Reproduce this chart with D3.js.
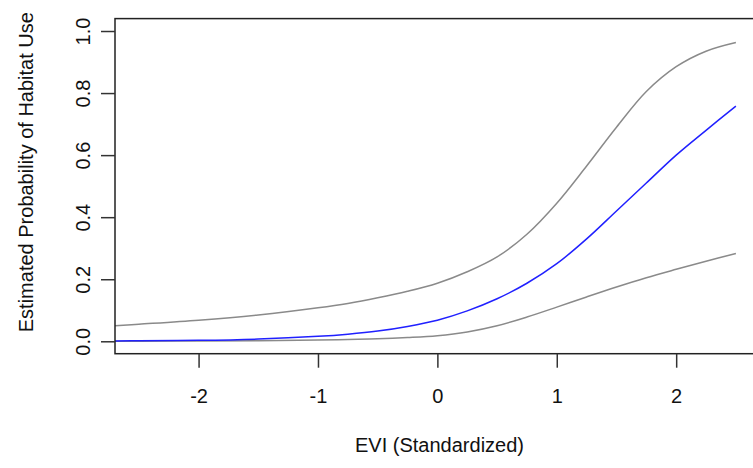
<!DOCTYPE html>
<html>
<head>
<meta charset="utf-8">
<script src="https://cdn.jsdelivr.net/npm/d3@7"></script>
<style>
  html, body { margin: 0; padding: 0; background: #fff; }
  svg { display: block; }
  text { font-family: "Liberation Sans", Arial, Helvetica, sans-serif; fill: #111; }
</style>
</head>
<body>
<svg id="chart" width="753" height="468"></svg>
<script>
// ---- data ----
const evi = [-2.7, -2.5, -2, -1.5, -1, -0.75, -0.5, -0.25, 0, 0.25, 0.5, 0.75, 1, 1.25, 1.5, 1.75, 2, 2.25, 2.5];
const estimate = [0.001, 0.002, 0.003, 0.007, 0.016, 0.023, 0.033, 0.048, 0.068, 0.098, 0.137, 0.187, 0.25, 0.33, 0.42, 0.51, 0.60, 0.68, 0.758];
const upperCI = [0.050, 0.055, 0.068, 0.085, 0.108, 0.122, 0.14, 0.161, 0.187, 0.224, 0.272, 0.345, 0.445, 0.565, 0.69, 0.805, 0.885, 0.935, 0.963];
const lowerCI = [0.000, 0.0005, 0.001, 0.002, 0.004, 0.006, 0.008, 0.012, 0.018, 0.03, 0.05, 0.078, 0.11, 0.143, 0.175, 0.205, 0.232, 0.258, 0.283];
const xTicks = [-2, -1, 0, 1, 2];
const xTickLabels = ["-2", "-1", "0", "1", "2"];
const yTicks = [0.0, 0.2, 0.4, 0.6, 0.8, 1.0];
const yTickLabels = ["0.0", "0.2", "0.4", "0.6", "0.8", "1.0"];
const xTitle = "EVI (Standardized)";
const yTitle = "Estimated Probability of Habitat Use";

// ---- layout ----
const svg = d3.select("#chart");
const plotL = 115, plotR = 764, plotT = 18.6, plotB = 353.7;
const pxPerUnit = 119.4;
const x = d3.scaleLinear().domain([-2.7, -2.7 + (plotR - plotL) / pxPerUnit]).range([plotL, plotR]);
const y = d3.scaleLinear().domain([-0.04, 1.04]).range([plotB, plotT]);

// lines
const line = d3.line().x(d => x(d[0])).y(d => y(d[1])).curve(d3.curveCatmullRom.alpha(0.5));
const series = [
  { vals: upperCI, color: "#8a8a8a", w: 1.5 },
  { vals: lowerCI, color: "#8a8a8a", w: 1.5 },
  { vals: estimate, color: "#2020ff", w: 1.5 }
];
series.forEach(s => {
  svg.append("path")
    .datum(evi.map((v, i) => [v, s.vals[i]]))
    .attr("d", line)
    .attr("fill", "none")
    .attr("stroke", s.color)
    .attr("stroke-width", s.w);
});

// box
svg.append("rect")
  .attr("x", plotL).attr("y", plotT)
  .attr("width", plotR - plotL).attr("height", plotB - plotT)
  .attr("fill", "none").attr("stroke", "#222").attr("stroke-width", 1.5);

// x axis
const xAxis = d3.axisBottom(x).tickValues(xTicks).tickSize(14).tickPadding(0)
  .tickFormat((d, i) => xTickLabels[i]);
const gx = svg.append("g").attr("transform", `translate(0,${plotB})`).call(xAxis);
gx.select(".domain").remove();
gx.selectAll(".tick line").attr("stroke", "#333").attr("stroke-width", 1.5);
gx.selectAll(".tick text")
  .attr("y", 49.6).attr("dy", null)
  .style("font-size", "20px").style("font-family", "Liberation Sans, Arial, sans-serif")
  .attr("fill", "#111");

// y axis
const yAxis = d3.axisLeft(y).tickValues(yTicks).tickSize(14).tickFormat((d, i) => yTickLabels[i]);
const gy = svg.append("g").attr("transform", `translate(${plotL},0)`).call(yAxis);
gy.select(".domain").remove();
gy.selectAll(".tick line").attr("stroke", "#333").attr("stroke-width", 1.5);
gy.selectAll(".tick text")
  .attr("x", null).attr("dy", null)
  .attr("text-anchor", "middle")
  .attr("transform", "translate(-25,0) rotate(-90)")
  .style("font-size", "20px").style("font-family", "Liberation Sans, Arial, sans-serif")
  .attr("fill", "#111");

// titles
svg.append("text")
  .attr("x", (plotL + plotR) / 2).attr("y", 452)
  .attr("text-anchor", "middle")
  .style("font-size", "20px")
  .text(xTitle);

svg.append("text")
  .attr("transform", `translate(33,${(plotT + plotB) / 2 - 14}) rotate(-90)`)
  .attr("text-anchor", "middle")
  .style("font-size", "20px")
  .text(yTitle);
</script>
</body>
</html>
